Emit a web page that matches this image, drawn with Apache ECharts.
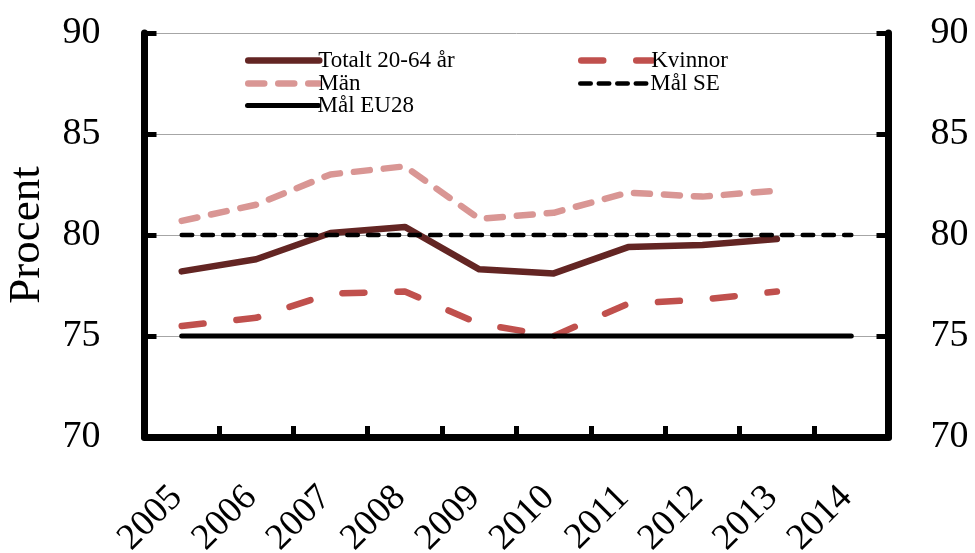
<!DOCTYPE html>
<html>
<head>
<meta charset="utf-8">
<script src="https://cdn.jsdelivr.net/npm/echarts@6/dist/echarts.min.js"></script>
<style>html,body{margin:0;padding:0;background:#fff;}#c{width:975px;height:553px;}</style>
</head>
<body>
<div id="c"></div>
<script>
const years = ['2005','2006','2007','2008','2009','2010','2011','2012','2013','2014'];
const totalt = [78.2, 78.8, 80.1, 80.4, 78.3, 78.1, 79.4, 79.5, 79.8, null];
const kvinnor = [75.5, 75.9, 77.1, 77.2, 75.6, 75.0, 76.6, 76.8, 77.2, null];
const man = [80.7, 81.5, 83.0, 83.4, 80.8, 81.1, 82.1, 81.9, 82.2, null];
const malSE = [80, 80, 80, 80, 80, 80, 80, 80, 80, 80];
const malEU = [75, 75, 75, 75, 75, 75, 75, 75, 75, 75];
const yTicks = [70, 75, 80, 85, 90];

const FONT = '"Liberation Serif", "DejaVu Serif", serif';
const chart = echarts.init(document.getElementById('c'), null, {renderer: 'canvas'});

function lg(name, left, top, ls) {
  return {
    data: [name], left: left, top: top, padding: 0,
    itemWidth: 71, itemHeight: 14, itemGap: 0,
    itemStyle: {color: 'rgba(0,0,0,0)', borderWidth: 0, opacity: 0},
    lineStyle: ls,
    textStyle: {fontFamily: FONT, fontSize: 23, color: '#000', padding: [0, 0, 0, -6]},
    selectedMode: false
  };
}

const yAxisBase = {
  type: 'value', min: yTicks[0], max: yTicks[yTicks.length - 1], interval: 5,
  axisLine: {show: true, lineStyle: {color: '#000', width: 7}},
  axisTick: {show: true, inside: true, length: 12, lineStyle: {color: '#000', width: 5}},
  axisLabel: {fontFamily: FONT, fontSize: 38, color: '#000', margin: 44}
};

chart.setOption({
  animation: false,
  backgroundColor: '#fff',
  grid: {left: 144.5, right: 86.5, top: 33, bottom: 116, containLabel: false, outerBoundsMode: 'none'},
  legend: [
    lg('Totalt 20-64 år', 245, 49, {width: 6.5, cap: 'round', type: 'solid'}),
    lg('Kvinnor', 578, 49, {width: 6.5, cap: 'round', type: [22, 33]}),
    lg('Män', 245, 72, {width: 6.5, cap: 'round', type: [16, 14]}),
    lg('Mål SE', 578, 72, {width: 4.5, cap: 'round', type: [10.5, 8]}),
    lg('Mål EU28', 245, 94, {width: 5, cap: 'round', type: 'solid'})
  ],
  xAxis: {
    type: 'category', data: years, boundaryGap: true,
    axisLine: {lineStyle: {color: '#000', width: 7}},
    axisTick: {show: true, inside: true, length: 11, lineStyle: {color: '#000', width: 5}},
    axisLabel: {rotate: 45, fontFamily: FONT, fontSize: 37, color: '#000', margin: 50, interval: 0, padding: [0, 7, 0, 0]},
    splitLine: {show: false}
  },
  yAxis: [
    Object.assign({}, yAxisBase, {
      position: 'left',
      name: 'Procent', nameLocation: 'middle', nameRotate: 90, nameGap: 95,
      nameTextStyle: {fontFamily: FONT, fontSize: 45, color: '#000'},
      splitLine: {show: true, lineStyle: {color: '#a6a6a6', width: 1}}
    }),
    Object.assign({}, yAxisBase, {
      position: 'right',
      axisLabel: {fontFamily: FONT, fontSize: 38, color: '#000', margin: 42},
      splitLine: {show: false}
    })
  ],
  series: [
    {name: 'Totalt 20-64 år', type: 'line', data: totalt, symbol: 'none',
     lineStyle: {color: '#632523', width: 6.5, cap: 'round', join: 'round'}, itemStyle: {color: '#632523'}},
    {name: 'Kvinnor', type: 'line', data: kvinnor, symbol: 'none',
     lineStyle: {color: '#C0504D', width: 6.5, type: [22, 33], cap: 'round', join: 'round'}, itemStyle: {color: '#C0504D'}},
    {name: 'Män', type: 'line', data: man, symbol: 'none',
     lineStyle: {color: '#D99694', width: 6.5, type: [16, 14], cap: 'round', join: 'round'}, itemStyle: {color: '#D99694'}},
    {name: 'Mål SE', type: 'line', data: malSE, symbol: 'none',
     lineStyle: {color: '#000', width: 4.5, type: [10.5, 10.2], cap: 'round'}, itemStyle: {color: '#000'}},
    {name: 'Mål EU28', type: 'line', data: malEU, symbol: 'none',
     lineStyle: {color: '#000', width: 5, cap: 'round'}, itemStyle: {color: '#000'}}
  ]
});
</script>
</body>
</html>
